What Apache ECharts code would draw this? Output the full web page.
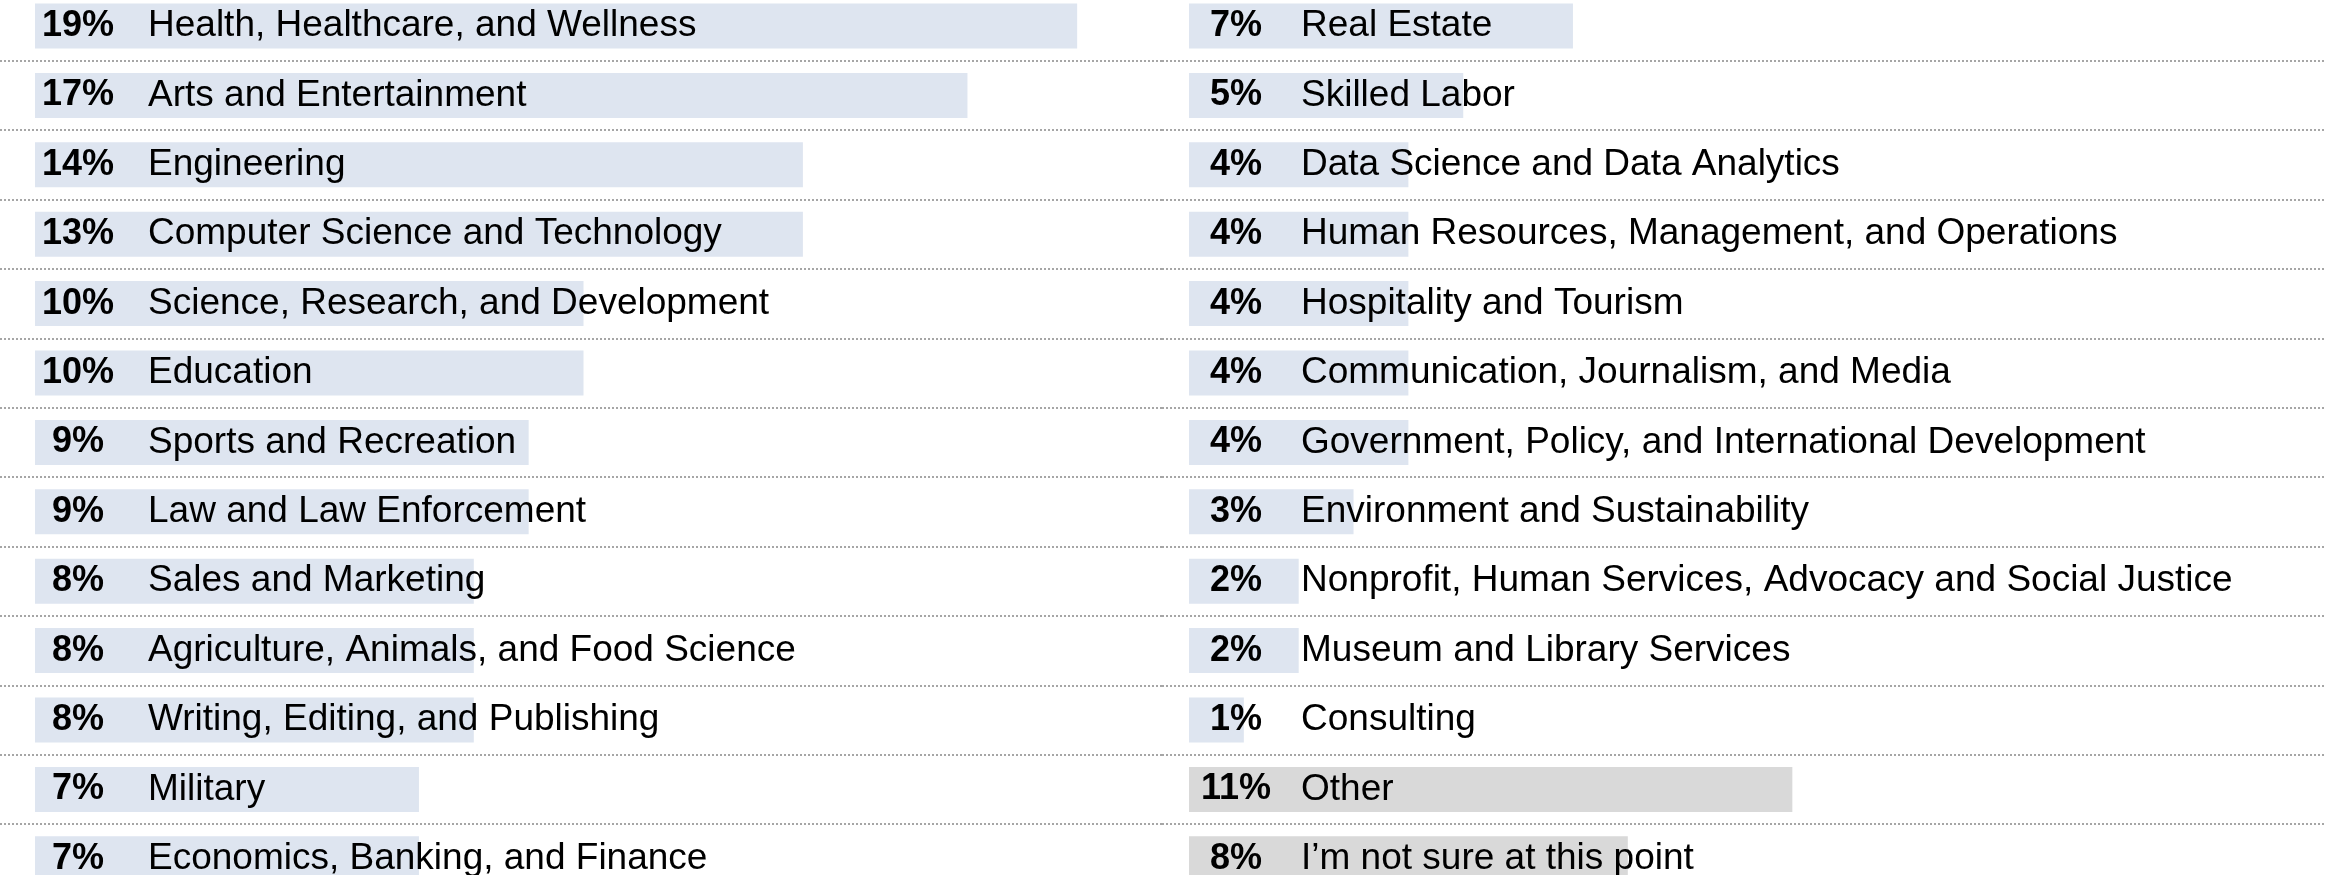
<!DOCTYPE html>
<html>
<head>
<meta charset="utf-8">
<script src="https://cdn.jsdelivr.net/npm/echarts@6/dist/echarts.min.js"></script>
<style>
    html, body { margin: 0; padding: 0; background: #fff; }
    #chart { width: 2325px; height: 875px; }
</style>
</head>
<body>
<div id="chart"></div>
<script>
// values (bar length) and the printed percentages
const leftCategories = [
    'Health, Healthcare, and Wellness',
    'Arts and Entertainment',
    'Engineering',
    'Computer Science and Technology',
    'Science, Research, and Development',
    'Education',
    'Sports and Recreation',
    'Law and Law Enforcement',
    'Sales and Marketing',
    'Agriculture, Animals, and Food Science',
    'Writing, Editing, and Publishing',
    'Military',
    'Economics, Banking, and Finance',
];
const leftShares = [19, 17, 14, 14, 10, 10, 9, 9, 8, 8, 8, 7, 7];
const leftLabels = ['19%', '17%', '14%', '13%', '10%', '10%', '9%', '9%', '8%', '8%', '8%', '7%', '7%'];

const rightCategories = [
    'Real Estate',
    'Skilled Labor',
    'Data Science and Data Analytics',
    'Human Resources, Management, and Operations',
    'Hospitality and Tourism',
    'Communication, Journalism, and Media',
    'Government, Policy, and International Development',
    'Environment and Sustainability',
    'Nonprofit, Human Services, Advocacy and Social Justice',
    'Museum and Library Services',
    'Consulting',
    'Other',
    'I’m not sure at this point',
];
const rightShares = [7, 5, 4, 4, 4, 4, 4, 3, 2, 2, 1, 11, 8];
const rightLabels = ['7%', '5%', '4%', '4%', '4%', '4%', '4%', '3%', '2%', '2%', '1%', '11%', '8%'];

const greyCategories = ['Other', 'I’m not sure at this point'];

const initChart = () => {
    const pxPerPct = 54.85;
    const rowH = 69.4;
    const firstRow = 26;
    const font = '"Liberation Sans", Arial, sans-serif';

    // percentages are centred in a box, names follow after a gap
    const columns = [
        {gridLeft: 0, gridWidth: 1162, barStart: 35, pctBox: 86, nameGap: 27,
            categories: leftCategories, shares: leftShares, labels: leftLabels},
        {gridLeft: 1162, gridWidth: 1163, barStart: 1189, pctBox: 94, nameGap: 18,
            categories: rightCategories, shares: rightShares, labels: rightLabels},
    ];

    const grid = [];
    const xAxis = [];
    const yAxis = [];
    const series = [];

    columns.forEach((col, i) => {
        const min = -(col.barStart - col.gridLeft) / pxPerPct;
        grid.push({
            left: col.gridLeft,
            width: col.gridWidth,
            top: firstRow - rowH / 2,
            height: rowH * col.categories.length,
            outerBoundsMode: 'none',
            containLabel: false,
        });
        xAxis.push({
            type: 'value',
            gridIndex: i,
            min: min,
            max: min + col.gridWidth / pxPerPct,
            show: false,
        });
        yAxis.push({
            type: 'category',
            gridIndex: i,
            inverse: true,
            data: col.categories,
            axisLine: {show: false},
            axisTick: {show: false},
            axisLabel: {show: false},
            splitLine: {
                show: true,
                lineStyle: {color: '#a6a6a6', width: 2, type: [2, 2]},
            },
        });
        series.push({
            type: 'bar',
            xAxisIndex: i,
            yAxisIndex: i,
            barWidth: 45,
            data: col.shares.map((v, k) => ({
                value: v,
                itemStyle: {color: greyCategories.includes(col.categories[k]) ? '#d9d9d9' : '#dee5f0'},
            })),
            label: {
                show: true,
                position: 'insideLeft',
                distance: 0,
                formatter: (p) => `{p|${col.labels[p.dataIndex]}}{n|${p.name}}`,
                rich: {
                    p: {
                        width: col.pctBox,
                        align: 'center',
                        fontFamily: font,
                        fontWeight: 'bold',
                        fontSize: 36,
                        color: '#000',
                        lineHeight: 40,
                    },
                    n: {
                        padding: [0, 0, 0, col.nameGap],
                        fontFamily: font,
                        fontSize: 37,
                        color: '#000',
                        lineHeight: 40,
                    },
                },
            },
        });
    });

    const chart = echarts.init(document.getElementById('chart'), null, {renderer: 'canvas'});
    chart.setOption({
        animation: false,
        backgroundColor: '#fff',
        grid,
        xAxis,
        yAxis,
        series,
    });
    return chart;
};

initChart();
</script>
</body>
</html>
